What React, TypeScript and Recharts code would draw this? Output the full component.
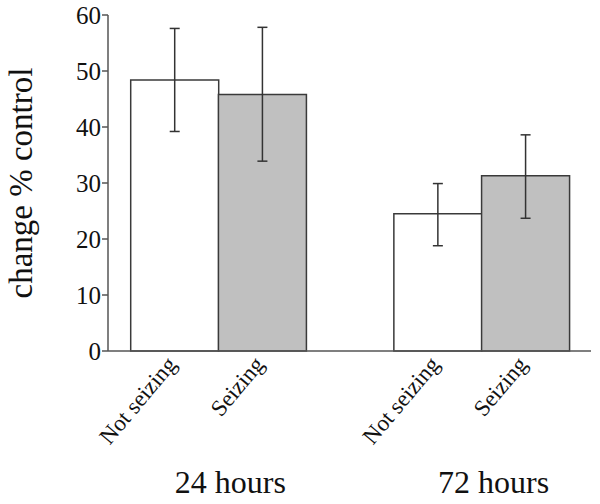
import { Bar, BarChart, Cell, ErrorBar, XAxis, YAxis } from "recharts";

const conditions = ["Not seizing", "Seizing", "", "Not seizing", "Seizing"];
const means = [48.4, 45.8, null, 24.5, 31.3];
const errLow = [39.2, 33.9, null, 18.8, 23.7];
const errHigh = [57.6, 57.8, null, 29.9, 38.6];
const fills = ["#ffffff", "#c0c0c0", "none", "#ffffff", "#c0c0c0"];
// group label sits on the first bar of each pair
const groupLabels = ["24 hours", "", "", "72 hours", ""];
const yTicks = [0, 10, 20, 30, 40, 50, 60];

const data = conditions.map((name, i) => ({
  name,
  group: groupLabels[i],
  value: means[i],
  err: means[i] == null ? null : [means[i]! - errLow[i]!, errHigh[i]! - means[i]!]
}));

const axisColor = "#555";
const font = "'Liberation Serif', 'Times New Roman', serif";

function ConditionTick({ x, y, payload, index }: any) {
  const half = payload.offset || 44;
  const group = data[index]?.group;
  return (
    <g>
      {payload.value ? (
        <text
          x={x + 3}
          y={y + 6}
          transform={`rotate(-50, ${x + 3}, ${y + 6})`}
          textAnchor="end"
          fontSize={23}
          fontFamily={font}
          fill="#111"
        >
          {payload.value}
        </text>
      ) : null}
      {group ? (
        <text
          x={x + half + 12}
          y={y + 134}
          textAnchor="middle"
          fontSize={32}
          fontFamily={font}
          fill="#111"
        >
          {group}
        </text>
      ) : null}
    </g>
  );
}

export default function App() {
  return (
    <div style={{ position: "absolute", left: 0, top: 0, background: "#fff", fontFamily: font }}>
      <BarChart
        width={600}
        height={504}
        data={data}
        margin={{ top: 15, right: 9, left: 0, bottom: 0 }}
        barCategoryGap={0}
      >
        <XAxis
          dataKey="name"
          interval={0}
          padding={{ left: 22.7, right: 21.7 }}
          axisLine={{ stroke: axisColor, strokeWidth: 1.5 }}
          tickLine={false}
          tick={<ConditionTick />}
          height={153}
        />
        <XAxis
          xAxisId="top"
          orientation="top"
          dataKey="name"
          tick={false}
          tickLine={false}
          height={0}
          axisLine={{ stroke: axisColor, strokeWidth: 1.5 }}
        />
        <YAxis
          domain={[0, 60]}
          ticks={yTicks}
          width={108}
          tickSize={6}
          tickMargin={1}
          axisLine={{ stroke: axisColor, strokeWidth: 1.5 }}
          tickLine={{ stroke: axisColor, strokeWidth: 1.5 }}
          tick={{ fontSize: 25, fontFamily: font, fill: "#111" }}
          label={{
            value: "change % control",
            angle: -90,
            position: "insideLeft",
            offset: 20,
            style: { fontSize: 33, fontFamily: font, fill: "#111", textAnchor: "middle" }
          }}
        />
        <YAxis
          yAxisId="right"
          orientation="right"
          domain={[0, 60]}
          width={0}
          tick={false}
          tickLine={false}
          axisLine={{ stroke: axisColor, strokeWidth: 1.5 }}
        />
        <Bar dataKey="value" stroke="#3a3a3a" strokeWidth={1.5} isAnimationActive={false}>
          {data.map((d, i) => (
            <Cell key={i} fill={fills[i]} stroke={d.value == null ? "none" : "#3a3a3a"} />
          ))}
          <ErrorBar dataKey="err" width={5} stroke="#333" strokeWidth={1.5} isAnimationActive={false} />
        </Bar>
      </BarChart>
    </div>
  );
}
